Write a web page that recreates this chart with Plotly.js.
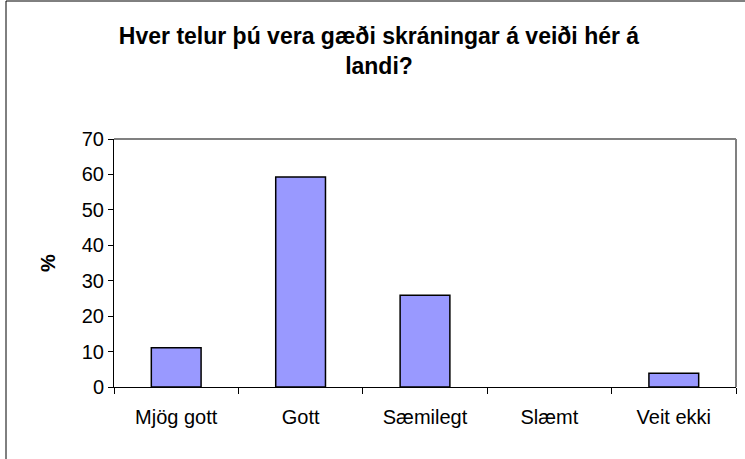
<!DOCTYPE html>
<html>
<head>
<meta charset="utf-8">
<script src="https://cdn.plot.ly/plotly-3.0.1.min.js"></script>
<style>html,body{margin:0;padding:0;background:#fff;}#chart{width:745px;height:459px;}</style>
</head>
<body>
<div id="chart"></div>
<script>
var categories = ["Mjög gott", "Gott", "Sæmilegt", "Slæmt", "Veit ekki"];
var values = [11.1, 59.3, 25.9, 0, 3.9];
var yTicks = [0, 10, 20, 30, 40, 50, 60, 70];

var outlineWidths = values.map(function (v) { return v > 0 ? 1.5 : 0; });

var trace = {
  type: "bar",
  x: categories,
  y: values,
  marker: {color: "#9999FF", line: {color: "#000000", width: outlineWidths}},
  hoverinfo: "none"
};

var FONT = "'Liberation Sans', Arial, sans-serif";

var layout = {
  width: 745,
  height: 459,
  margin: {l: 114, r: 9, t: 139, b: 72},
  paper_bgcolor: "#ffffff",
  plot_bgcolor: "#ffffff",
  showlegend: false,
  bargap: 0.6,
  font: {family: FONT, size: 20, color: "#000"},
  title: {
    text: "<b>Hver telur þú vera gæði skráningar á veiði hér á<br>landi?</b>",
    font: {family: FONT, size: 23, color: "#000"},
    xref: "container", x: 379/745, xanchor: "center",
    yref: "container", y: 1 - 44/459, yanchor: "top"
  },
  xaxis: {
    type: "category",
    tickson: "boundaries",
    ticks: "outside",
    ticklen: 6,
    tickcolor: "#000",
    showline: true,
    linecolor: "#000",
    linewidth: 1,
    showgrid: false,
    zeroline: false,
    tickfont: {family: FONT, size: 20},
    ticklabelstandoff: 12,
    fixedrange: true
  },
  yaxis: {
    range: [0, 70],
    tickvals: yTicks,
    ticks: "outside",
    ticklen: 5,
    tickcolor: "#000",
    showline: true,
    linecolor: "#000",
    linewidth: 1,
    showgrid: false,
    zeroline: false,
    tickfont: {family: FONT, size: 20},
    title: {text: "<b>%</b>", font: {family: FONT, size: 20}, standoff: 20},
    fixedrange: true
  },
  shapes: [
    {type: "line", xref: "paper", yref: "paper", x0: 0, x1: 1, y0: 1, y1: 1, line: {color: "#808080", width: 2}},
    {type: "line", xref: "paper", yref: "paper", x0: 1, x1: 1, y0: 0, y1: 1, line: {color: "#808080", width: 2}},
    {type: "rect", xref: "paper", yref: "paper", x0: (6-114)/622, x1: (760-114)/622, y0: (387-480)/248, y1: (387-1)/248, line: {color: "#000", width: 1}, fillcolor: "rgba(0,0,0,0)", layer: "below"}
  ]
};

Plotly.newPlot("chart", [trace], layout, {displayModeBar: false, staticPlot: true});
</script>
</body>
</html>
